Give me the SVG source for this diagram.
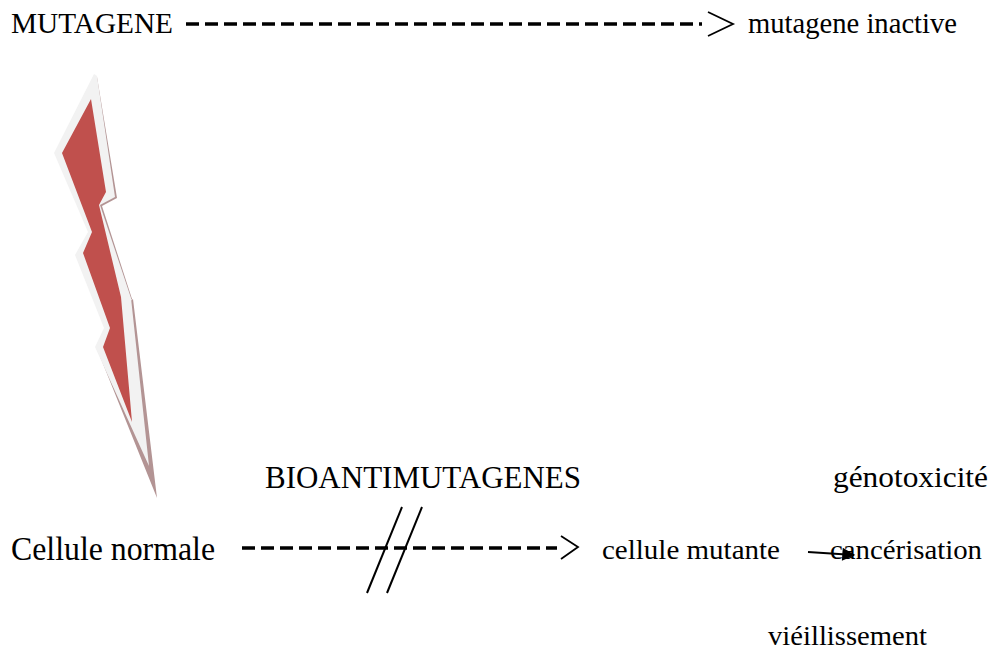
<svg xmlns="http://www.w3.org/2000/svg" width="992" height="657" viewBox="0 0 992 657">
  <defs>
    <style>
      .lbl { font-family: "Liberation Serif", "Times New Roman", serif; fill: #000; }
      .dash { stroke: #000; stroke-width: 3.5; stroke-dasharray: 13 6; fill: none; }
      .chev { stroke: #000; stroke-width: 1.8; fill: none; stroke-linejoin: miter; }
      .thin { stroke: #000; stroke-width: 2; fill: none; }
    </style>
    <marker id="head" viewBox="0 0 10 10" refX="9" refY="5" markerWidth="16" markerHeight="13" orient="auto" markerUnits="userSpaceOnUse">
      <path d="M0,0 L10,5 L0,10 Z" fill="#000"/>
    </marker>
  </defs>
  <rect width="992" height="657" fill="#fff"/>

  <!-- lightning bolt: extruded edge, pale rim, red face -->
  <g id="bolt">
    <polygon points="97,77 57,155 90,235 77,257 106,330 97,349 157,498 133,299 118,310 132,299 102,206 117,198" fill="#b39494"/>
    <polygon points="94,74 54,153 88,232 75,255 104,328 95,347 149,466 131,298 116,308 131,298 100,205 115,197 97,76" fill="#f2f2f2"/>
    <polygon points="91,99 62,153 92,232 83,253 110,328 103,347 132,422 121,297 113,308 121,297 99,205 106,192" fill="#c0504d"/>
  </g>

  <!-- labels -->
  <g id="mutagene"><text class="lbl" x="11" y="33" font-size="29" textLength="162" lengthAdjust="spacingAndGlyphs">MUTAGENE</text></g>
  <g id="mutagene-inactive"><text class="lbl" x="748" y="33" font-size="29" textLength="209" lengthAdjust="spacingAndGlyphs">mutagene inactive</text></g>
  <g id="bioantimutagenes"><text class="lbl" x="265" y="488" font-size="31" textLength="316" lengthAdjust="spacingAndGlyphs">BIOANTIMUTAGENES</text></g>
  <g id="genotoxicite"><text class="lbl" x="833" y="487" font-size="29" textLength="155" lengthAdjust="spacingAndGlyphs">génotoxicité</text></g>
  <g id="cellule-normale"><text class="lbl" x="11" y="560" font-size="33" textLength="204" lengthAdjust="spacingAndGlyphs">Cellule normale</text></g>
  <g id="cellule-mutante"><text class="lbl" x="602" y="559" font-size="28" textLength="178" lengthAdjust="spacingAndGlyphs">cellule mutante</text></g>
  <g id="cancerisation"><text class="lbl" x="830" y="559" font-size="28" textLength="152" lengthAdjust="spacingAndGlyphs">cancérisation</text></g>
  <g id="vieillissement"><text class="lbl" x="768" y="645" font-size="28" textLength="159" lengthAdjust="spacingAndGlyphs">viéillissement</text></g>

  <!-- connectors -->
  <g id="connectors">
    <line class="dash" x1="186" y1="24" x2="702" y2="24"/>
    <polyline class="chev" points="708,12 733,24 708,36"/>
    <line class="dash" x1="242" y1="548" x2="557" y2="548"/>
    <polyline class="chev" points="561,536 578,547 561,559"/>
    <line class="thin" x1="402" y1="507" x2="367" y2="593"/>
    <line class="thin" x1="422" y1="507" x2="387" y2="593"/>
    <line class="thin" x1="808" y1="552" x2="854" y2="555" marker-end="url(#head)"/>
  </g>
</svg>
